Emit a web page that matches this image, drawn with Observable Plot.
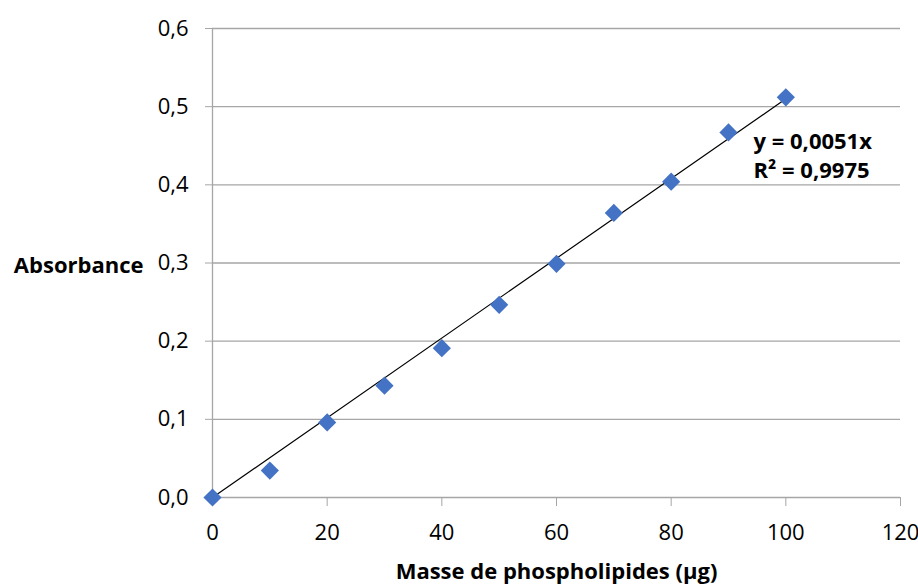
<!DOCTYPE html>
<html>
<head>
<meta charset="utf-8">
<script src="https://cdn.jsdelivr.net/npm/d3@7"></script>
<script src="https://cdn.jsdelivr.net/npm/@observablehq/plot@0.6"></script>
<style>
  html, body { margin: 0; padding: 0; background: #fff; }
  #chart svg { display: block; }
</style>
</head>
<body>
<div id="chart"></div>
<script>
// Data
const masse = [0, 10, 20, 30, 40, 50, 60, 70, 80, 90, 100];
const absorbance = [0, 0.0345, 0.096, 0.143, 0.191, 0.2465, 0.299, 0.364, 0.404, 0.467, 0.512];
const slope = 0.0051;
const trendX = [0, 100];
const xTicks = [0, 20, 40, 60, 80, 100, 120];
const yTicks = [0, 0.1, 0.2, 0.3, 0.4, 0.5, 0.6];
const eqLine1 = "y = 0,0051x";
const eqLine2 = "R² = 0,9975";
const xLabel = "Masse de phospholipides (µg)";
const yLabel = "Absorbance";

const points = masse.map((m, i) => ({x: m, y: absorbance[i]}));
const trend = trendX.map(x => ({x, y: slope * x}));
const fmtY = d => d3.format(".1f")(d).replace(".", ",");

const gridColor = "#a6a6a6";
const font = "'Open Sans', Lato, sans-serif";

const chart = Plot.plot({
  width: 918,
  height: 586,
  marginLeft: 212,
  marginRight: 18,
  marginTop: 28,
  marginBottom: 89,
  style: {fontFamily: font, fontSize: "22px", color: "#000", background: "#fff"},
  x: {domain: [0, 120]},
  y: {domain: [0, 0.6]},
  marks: [
    Plot.gridY(yTicks, {stroke: gridColor, strokeOpacity: 1, strokeWidth: 1.3}),
    Plot.ruleX([0], {stroke: gridColor, strokeWidth: 1.3}),
    Plot.axisY(yTicks, {tickFormat: fmtY, tickSize: 7, tickPadding: 17, stroke: gridColor, fill: "#000", label: null, fontSize: 22}),
    Plot.axisX(xTicks, {tickSize: 9, tickPadding: 18, stroke: gridColor, fill: "#000", label: null, fontSize: 22}),
    Plot.line(trend, {x: "x", y: "y", stroke: "#000", strokeWidth: 1.2}),
    Plot.dot(points, {x: "x", y: "y", symbol: "diamond2", r: 8.2, fill: "#4472c4", stroke: "none"}),
    Plot.text([yLabel], {frameAnchor: "left", dx: -69, dy: 3, textAnchor: "end", fontWeight: "bold", fontSize: 22, fill: "#000"}),
    Plot.text([xLabel], {frameAnchor: "bottom", dy: 74, lineAnchor: "middle", fontWeight: "bold", fontSize: 22, fill: "#000"}),
    Plot.text([eqLine1], {frameAnchor: "top-left", lineAnchor: "middle", textAnchor: "start", dx: 541, dy: 113, fontWeight: "bold", fontSize: 22, fill: "#000"}),
    Plot.text([eqLine2], {frameAnchor: "top-left", lineAnchor: "middle", textAnchor: "start", dx: 541, dy: 142, fontWeight: "bold", fontSize: 22, fill: "#000"})
  ]
});
document.getElementById("chart").appendChild(chart);
</script>
</body>
</html>
